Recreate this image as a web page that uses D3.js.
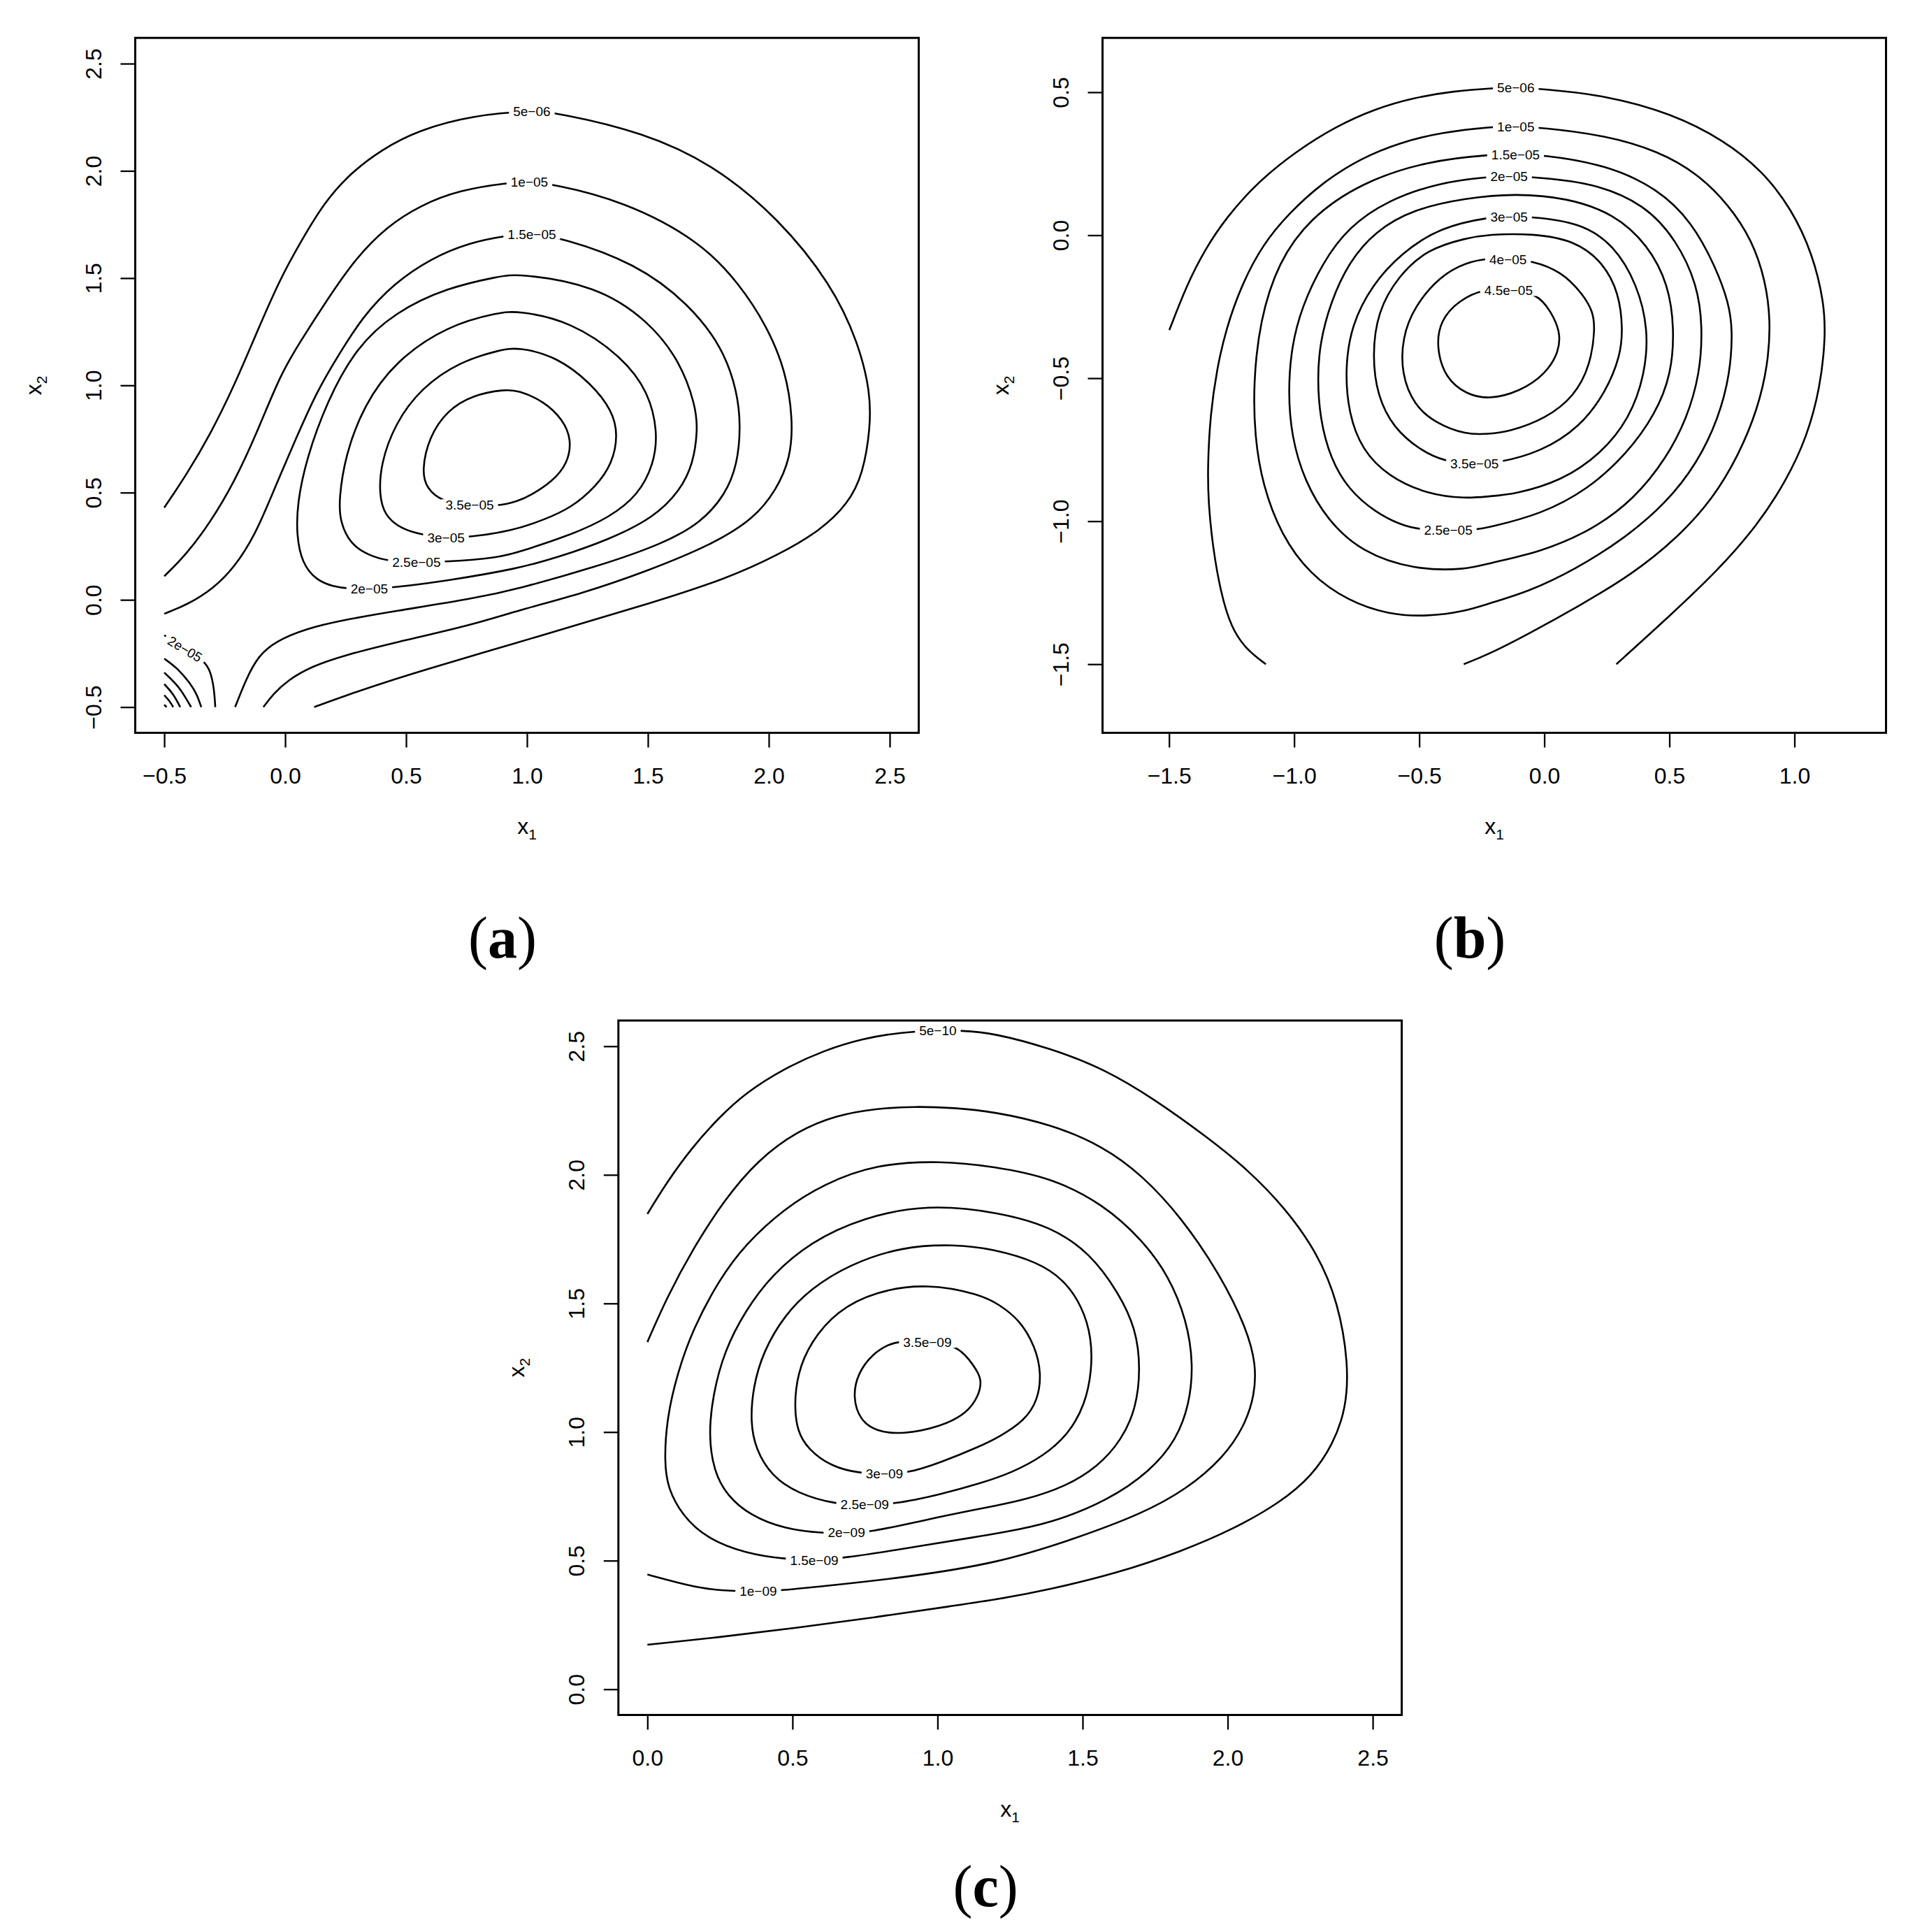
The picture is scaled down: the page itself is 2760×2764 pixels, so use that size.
<!DOCTYPE html>
<html>
<head>
<meta charset="utf-8">
<script src="https://cdn.jsdelivr.net/npm/d3@7"></script>
<style>
  body { margin: 0; background: #fff; }
</style>
</head>
<body>
<div id="chart"></div>
<script>

// ---------- tick values ----------
var ticksA = [-0.5, 0, 0.5, 1, 1.5, 2, 2.5];
var ticksBx = [-1.5, -1, -0.5, 0, 0.5, 1];
var ticksBy = [-1.5, -1, -0.5, 0, 0.5];
var ticksC = [0, 0.5, 1, 1.5, 2, 2.5];

// ---------- panel (a) contours, [x1, x2] ----------
var a_5e06 = [[-0.50,0.43],[-0.41,0.58],[-0.31,0.77],[-0.21,1.00],[-0.12,1.24],[-0.02,1.50],[0.07,1.68],[0.16,1.85],[0.27,1.99],[0.40,2.10],[0.55,2.19],[0.78,2.26],[1.02,2.28],[1.13,2.27],[1.48,2.18],[1.77,2.03],[2.04,1.78],[2.26,1.47],[2.37,1.20],[2.42,0.97],[2.42,0.80],[2.39,0.59],[2.33,0.45],[2.21,0.32],[2.04,0.21],[1.83,0.10],[1.50,-0.02],[1.18,-0.125],[0.96,-0.20],[0.67,-0.295],[0.45,-0.37],[0.24,-0.45],[0.12,-0.50]];
var a_1e05 = [[-0.50,0.11],[-0.41,0.21],[-0.31,0.36],[-0.21,0.55],[-0.12,0.77],[-0.02,1.05],[0.06,1.20],[0.18,1.41],[0.29,1.59],[0.42,1.74],[0.56,1.84],[0.72,1.91],[0.92,1.945],[1.01,1.948],[1.10,1.94],[1.40,1.86],[1.72,1.67],[1.88,1.47],[1.99,1.28],[2.07,1.07],[2.10,0.84],[2.09,0.66],[2.03,0.51],[1.94,0.38],[1.77,0.26],[1.50,0.135],[1.23,0.03],[0.96,-0.05],[0.78,-0.115],[0.45,-0.20],[0.24,-0.26],[0.11,-0.31],[0.01,-0.375],[-0.05,-0.44],[-0.09,-0.50]];
var a_15e05 = [[-0.50,-0.065],[-0.40,-0.02],[-0.30,0.05],[-0.21,0.15],[-0.12,0.31],[-0.04,0.53],[0.04,0.74],[0.13,0.97],[0.22,1.14],[0.32,1.32],[0.45,1.475],[0.60,1.59],[0.76,1.665],[0.92,1.70],[1.02,1.706],[1.14,1.69],[1.45,1.57],[1.67,1.38],[1.81,1.175],[1.87,0.97],[1.884,0.81],[1.87,0.63],[1.82,0.49],[1.72,0.36],[1.56,0.26],[1.29,0.155],[0.96,0.05],[0.78,0.006],[0.45,-0.053],[0.24,-0.094],[0.08,-0.136],[-0.04,-0.194],[-0.11,-0.26],[-0.16,-0.365],[-0.207,-0.50]];
var a_2e05 = [[0.348,0.051],[0.44,0.056],[0.67,0.089],[0.96,0.145],[1.125,0.197],[1.34,0.281],[1.525,0.384],[1.633,0.509],[1.687,0.634],[1.706,0.79],[1.698,0.904],[1.633,1.112],[1.504,1.30],[1.287,1.466],[0.963,1.522],[0.886,1.508],[0.67,1.456],[0.454,1.341],[0.292,1.175],[0.173,0.925],[0.087,0.655],[0.05,0.45],[0.047,0.30],[0.07,0.17],[0.13,0.09],[0.20,0.062],[0.26,0.052]];
var a_25e05 = [[0.543,0.176],[0.66,0.176],[0.886,0.197],[0.963,0.222],[1.179,0.301],[1.341,0.384],[1.46,0.488],[1.525,0.634],[1.541,0.78],[1.504,0.967],[1.395,1.133],[1.179,1.30],[0.963,1.347],[0.886,1.341],[0.67,1.279],[0.454,1.112],[0.324,0.904],[0.249,0.675],[0.222,0.467],[0.227,0.364],[0.27,0.259],[0.346,0.207],[0.427,0.18]];
var a_3e05 = [[0.665,0.291],[0.757,0.291],[0.941,0.322],[1.071,0.374],[1.179,0.426],[1.287,0.53],[1.352,0.634],[1.377,0.769],[1.352,0.884],[1.266,1.008],[1.125,1.133],[0.963,1.179],[0.886,1.164],[0.724,1.112],[0.562,0.988],[0.454,0.821],[0.395,0.634],[0.389,0.488],[0.411,0.395],[0.476,0.332],[0.573,0.301]];
var a_35e05 = [[0.763,0.443],[0.881,0.436],[0.963,0.46],[1.017,0.488],[1.104,0.551],[1.168,0.634],[1.185,0.748],[1.147,0.842],[1.071,0.925],[0.963,0.977],[0.908,0.981],[0.778,0.956],[0.67,0.884],[0.595,0.759],[0.565,0.603],[0.584,0.52],[0.649,0.457]];
// corner arcs near (-0.5, -0.5)
var a_c2e05 = [[-0.50,-0.165],[-0.414,-0.229],[-0.331,-0.287],[-0.309,-0.334],[-0.294,-0.411],[-0.289,-0.50]];
var a_c25e05 = [[-0.50,-0.274],[-0.444,-0.32],[-0.395,-0.386],[-0.366,-0.437],[-0.347,-0.50]];
var a_c3e05 = [[-0.50,-0.339],[-0.444,-0.399],[-0.415,-0.45],[-0.389,-0.50]];
var a_c35e05 = [[-0.50,-0.393],[-0.463,-0.437],[-0.434,-0.50]];
var a_c4e05 = [[-0.50,-0.445],[-0.48,-0.468],[-0.463,-0.50]];
var a_c45e05 = [[-0.50,-0.489],[-0.49,-0.50]];
var a_labels = [["5e\u221206",1.02,2.277,0],["1e\u221205",1.01,1.948,0],["1.5e\u221205",1.02,1.706,0],["2e\u221205",0.348,0.051,0],["2.5e\u221205",0.543,0.176,0],["3e\u221205",0.665,0.291,0],["3.5e\u221205",0.763,0.443,0],["2e\u221205",-0.414,-0.229,31]];

// ---------- panel (b) ----------
var b_5e06 = [[-1.499,-0.332],[-1.429,-0.173],[-1.356,-0.049],[-1.273,0.06],[-1.147,0.185],[-0.991,0.294],[-0.834,0.38],[-0.677,0.442],[-0.521,0.481],[-0.364,0.504],[-0.197,0.515],[-0.114,0.516],[-0.014,0.512],[0.247,0.489],[0.508,0.426],[0.717,0.333],[0.873,0.224],[0.988,0.092],[1.072,-0.064],[1.119,-0.236],[1.124,-0.36],[1.103,-0.532],[1.051,-0.703],[0.967,-0.859],[0.852,-1.014],[0.696,-1.17],[0.508,-1.326],[0.288,-1.50]];
var b_1e05 = [[-1.113,-1.50],[-1.189,-1.451],[-1.252,-1.373],[-1.294,-1.248],[-1.325,-1.092],[-1.343,-0.937],[-1.346,-0.81],[-1.335,-0.625],[-1.309,-0.469],[-1.273,-0.329],[-1.21,-0.173],[-1.126,-0.033],[-1.022,0.076],[-0.886,0.185],[-0.73,0.271],[-0.573,0.325],[-0.416,0.359],[-0.207,0.38],[-0.114,0.38],[-0.014,0.377],[0.247,0.349],[0.456,0.294],[0.612,0.216],[0.737,0.107],[0.831,-0.018],[0.884,-0.158],[0.905,-0.298],[0.894,-0.454],[0.852,-0.61],[0.779,-0.765],[0.675,-0.921],[0.529,-1.061],[0.351,-1.186],[0.142,-1.295],[-0.067,-1.396],[-0.224,-1.466],[-0.322,-1.50]];
var b_15e05 = [[-0.115,0.282],[-0.014,0.282],[0.247,0.247],[0.456,0.162],[0.591,0.045],[0.685,-0.111],[0.737,-0.236],[0.753,-0.329],[0.743,-0.485],[0.696,-0.641],[0.612,-0.796],[0.487,-0.937],[0.32,-1.061],[0.121,-1.17],[-0.067,-1.248],[-0.224,-1.288],[-0.312,-1.314],[-0.468,-1.334],[-0.625,-1.326],[-0.782,-1.28],[-0.938,-1.186],[-1.053,-1.046],[-1.126,-0.874],[-1.158,-0.703],[-1.163,-0.516],[-1.137,-0.298],[-1.064,-0.095],[-0.938,0.06],[-0.73,0.185],[-0.468,0.26],[-0.207,0.283]];
var b_2e05 = [[-0.141,0.206],[-0.067,0.205],[0.194,0.185],[0.403,0.107],[0.529,-0.018],[0.612,-0.173],[0.633,-0.321],[0.622,-0.485],[0.57,-0.641],[0.487,-0.781],[0.361,-0.921],[0.194,-1.03],[-0.014,-1.108],[-0.224,-1.147],[-0.312,-1.17],[-0.521,-1.17],[-0.73,-1.108],[-0.865,-0.999],[-0.959,-0.859],[-1.011,-0.703],[-1.024,-0.547],[-1.011,-0.391],[-0.97,-0.251],[-0.886,-0.095],[-0.782,0.029],[-0.625,0.123],[-0.416,0.185],[-0.218,0.205]];
var b_25e05 = [[-0.384,-1.03],[-0.27,-1.03],[-0.224,-1.022],[-0.014,-0.976],[0.173,-0.89],[0.33,-0.765],[0.445,-0.625],[0.508,-0.485],[0.52,-0.329],[0.497,-0.173],[0.414,-0.033],[0.278,0.076],[0.09,0.131],[-0.119,0.146],[-0.312,0.13],[-0.521,0.092],[-0.677,0.014],[-0.782,-0.095],[-0.855,-0.236],[-0.897,-0.376],[-0.907,-0.5],[-0.897,-0.641],[-0.855,-0.781],[-0.782,-0.89],[-0.677,-0.968],[-0.573,-1.014],[-0.494,-1.03]];
var b_3e05 = [[-0.141,0.065],[-0.062,0.065],[0.142,0.045],[0.278,-0.033],[0.372,-0.173],[0.416,-0.329],[0.403,-0.485],[0.341,-0.641],[0.226,-0.765],[0.069,-0.859],[-0.119,-0.906],[-0.224,-0.913],[-0.312,-0.921],[-0.468,-0.906],[-0.625,-0.843],[-0.729,-0.75],[-0.782,-0.625],[-0.797,-0.469],[-0.771,-0.313],[-0.688,-0.173],[-0.573,-0.064],[-0.416,0.029],[-0.207,0.065]];
var b_35e05 = [[-0.279,-0.799],[-0.187,-0.797],[-0.014,-0.758],[0.142,-0.672],[0.247,-0.547],[0.304,-0.422],[0.314,-0.329],[0.299,-0.204],[0.236,-0.095],[0.121,-0.018],[-0.046,0.006],[-0.224,0.003],[-0.312,-0.01],[-0.468,-0.049],[-0.583,-0.142],[-0.667,-0.267],[-0.688,-0.423],[-0.667,-0.563],[-0.604,-0.672],[-0.5,-0.75],[-0.395,-0.793]];
var b_4e05 = [[-0.145,-0.084],[-0.051,-0.088],[0.069,-0.127],[0.153,-0.205],[0.195,-0.267],[0.203,-0.329],[0.184,-0.454],[0.121,-0.563],[0.006,-0.641],[-0.14,-0.687],[-0.224,-0.695],[-0.312,-0.698],[-0.437,-0.656],[-0.521,-0.594],[-0.571,-0.485],[-0.568,-0.36],[-0.521,-0.251],[-0.416,-0.142],[-0.312,-0.095],[-0.22,-0.08]];
var b_45e05 = [[-0.143,-0.193],[-0.03,-0.202],[0.027,-0.267],[0.064,-0.337],[0.059,-0.407],[0.006,-0.485],[-0.098,-0.547],[-0.224,-0.575],[-0.312,-0.556],[-0.395,-0.501],[-0.432,-0.392],[-0.416,-0.298],[-0.343,-0.228],[-0.238,-0.186]];
var b_labels = [["5e\u221206",-0.114,0.516,0],["1e\u221205",-0.114,0.38,0],["1.5e\u221205",-0.115,0.282,0],["2e\u221205",-0.141,0.206,0],["3e\u221205",-0.141,0.065,0],["4e\u221205",-0.145,-0.084,0],["4.5e\u221205",-0.143,-0.193,0],["3.5e\u221205",-0.279,-0.799,0],["2.5e\u221205",-0.384,-1.03,0]];

// ---------- panel (c) ----------
var c_5e10 = [[0.0,1.848],[0.067,1.972],[0.157,2.111],[0.247,2.223],[0.337,2.318],[0.472,2.414],[0.607,2.483],[0.742,2.53],[0.877,2.555],[1.001,2.561],[1.079,2.561],[1.192,2.552],[1.391,2.491],[1.571,2.414],[1.751,2.292],[1.931,2.145],[2.066,2.024],[2.201,1.868],[2.309,1.696],[2.381,1.505],[2.417,1.263],[2.408,1.09],[2.363,0.952],[2.291,0.83],[2.183,0.727],[2.021,0.623],[1.841,0.536],[1.616,0.45],[1.391,0.389],[1.211,0.35],[1.057,0.325],[0.787,0.28],[0.517,0.239],[0.247,0.202],[0.0,0.173]];
var c_1e09 = [[0.0,1.35],[0.067,1.523],[0.157,1.713],[0.265,1.903],[0.382,2.059],[0.517,2.171],[0.652,2.232],[0.787,2.258],[0.922,2.266],[1.057,2.261],[1.192,2.246],[1.391,2.197],[1.571,2.111],[1.706,1.998],[1.841,1.834],[1.976,1.609],[2.066,1.401],[2.098,1.263],[2.093,1.142],[2.057,1.021],[1.985,0.9],[1.859,0.778],[1.706,0.683],[1.481,0.588],[1.211,0.49],[0.877,0.433],[0.607,0.401],[0.463,0.384],[0.382,0.381],[0.306,0.381],[0.202,0.389],[0.112,0.412],[0.0,0.446]];
var c_15e09 = [[0.575,0.502],[0.679,0.51],[0.877,0.545],[1.147,0.595],[1.211,0.607],[1.391,0.645],[1.589,0.735],[1.733,0.848],[1.823,0.969],[1.868,1.107],[1.882,1.263],[1.859,1.436],[1.796,1.609],[1.706,1.747],[1.571,1.886],[1.391,1.99],[1.192,2.033],[1.012,2.055],[0.787,2.042],[0.607,1.964],[0.472,1.869],[0.337,1.73],[0.247,1.592],[0.157,1.401],[0.103,1.228],[0.067,1.055],[0.058,0.882],[0.071,0.779],[0.121,0.675],[0.202,0.588],[0.337,0.528],[0.481,0.505]];
var c_2e09 = [[0.686,0.609],[0.764,0.609],[0.967,0.661],[1.147,0.702],[1.211,0.716],[1.301,0.737],[1.436,0.785],[1.553,0.865],[1.634,0.969],[1.684,1.09],[1.70,1.246],[1.684,1.401],[1.625,1.54],[1.526,1.696],[1.391,1.799],[1.211,1.855],[0.967,1.886],[0.742,1.834],[0.562,1.739],[0.427,1.609],[0.337,1.471],[0.265,1.315],[0.225,1.142],[0.211,0.986],[0.229,0.848],[0.274,0.753],[0.355,0.675],[0.472,0.623],[0.607,0.606]];
var c_25e09 = [[0.749,0.718],[0.845,0.718],[1.012,0.758],[1.147,0.80],[1.256,0.842],[1.364,0.905],[1.454,0.995],[1.508,1.107],[1.532,1.237],[1.531,1.367],[1.499,1.488],[1.436,1.592],[1.346,1.661],[1.192,1.712],[1.057,1.73],[0.877,1.721],[0.697,1.652],[0.562,1.557],[0.472,1.453],[0.40,1.315],[0.364,1.176],[0.355,1.038],[0.373,0.934],[0.427,0.83],[0.517,0.761],[0.652,0.718]];
var c_3e09 = [[0.817,0.839],[0.895,0.839],[1.012,0.882],[1.147,0.945],[1.211,0.98],[1.301,1.045],[1.346,1.125],[1.358,1.228],[1.337,1.332],[1.283,1.436],[1.211,1.497],[1.147,1.535],[0.967,1.578],[0.787,1.548],[0.652,1.471],[0.562,1.349],[0.517,1.228],[0.506,1.099],[0.517,1.003],[0.553,0.934],[0.634,0.865],[0.733,0.839]];
var c_35e09 = [[0.965,1.349],[1.066,1.337],[1.111,1.28],[1.142,1.228],[1.151,1.194],[1.142,1.142],[1.102,1.073],[1.012,1.021],[0.877,0.99],[0.787,1.003],[0.733,1.047],[0.708,1.133],[0.724,1.228],[0.778,1.306],[0.832,1.341],[0.868,1.353]];
var c_labels = [["5e\u221210",1.001,2.561,0],["1e\u221209",0.382,0.381,0],["1.5e\u221209",0.575,0.502,0],["2e\u221209",0.686,0.609,0],["2.5e\u221209",0.749,0.718,0],["3e\u221209",0.817,0.839,0],["3.5e\u221209",0.965,1.349,0]];

// ---------------------------------------------------------------
var W = 2760, H = 2764;
var sans = "'Liberation Sans', Arial, Helvetica, sans-serif";
var serif = "'Liberation Serif', 'Times New Roman', serif";

var svg = d3.select("#chart").append("svg")
    .attr("width", W)
    .attr("height", H)
    .style("background", "#fff");

var panels = [
  { name: "a", left: 193.5, right: 1314.5, top: 54.2, bottom: 1048.4,
    xDomain: [-0.62, 2.62], yDomain: [-0.62, 2.62], xTicks: ticksA, yTicks: ticksA,
    lines: [[a_5e06,0],[a_1e05,0],[a_15e05,0],[a_2e05,1],[a_25e05,1],[a_3e05,1],[a_35e05,1],
            [a_c2e05,0],[a_c25e05,0],[a_c3e05,0],[a_c35e05,0],[a_c4e05,0],[a_c45e05,0]],
    labels: a_labels, tagY: 1370 },
  { name: "b", left: 1577.5, right: 2698.5, top: 54.2, bottom: 1048.4,
    xDomain: [-1.766, 1.366], yDomain: [-1.74, 0.69], xTicks: ticksBx, yTicks: ticksBy,
    lines: [[b_5e06,0],[b_1e05,0],[b_15e05,1],[b_2e05,1],[b_25e05,1],[b_3e05,1],[b_35e05,1],[b_4e05,1],[b_45e05,1]],
    labels: b_labels, tagY: 1370 },
  { name: "c", left: 884.8, right: 2005.6, top: 1460, bottom: 2453.5,
    xDomain: [-0.1, 2.6], yDomain: [-0.1, 2.6], xTicks: ticksC, yTicks: ticksC,
    lines: [[c_5e10,0],[c_1e09,0],[c_15e09,1],[c_2e09,1],[c_25e09,1],[c_3e09,1],[c_35e09,1]],
    labels: c_labels, tagY: 2727 }
];

panels.forEach(drawPanel);

function drawPanel(p) {
    var x = d3.scaleLinear().domain(p.xDomain).range([p.left, p.right]);
    var y = d3.scaleLinear().domain(p.yDomain).range([p.bottom, p.top]);
    var g = svg.append("g").attr("class", "panel-" + p.name);

    // smoothing splines: the points are hand-read, this takes the jitter out
    var open = d3.line()
        .x(function(d) { return x(d[0]); })
        .y(function(d) { return y(d[1]); })
        .curve(d3.curveBasis);
    var closed = d3.line()
        .x(function(d) { return x(d[0]); })
        .y(function(d) { return y(d[1]); })
        .curve(d3.curveBasisClosed);

    // contour lines
    g.selectAll(".contour")
        .data(p.lines)
        .enter().append("path")
        .attr("class", "contour")
        .attr("d", function(d) { return d[1] ? closed(d[0]) : open(d[0]); })
        .attr("fill", "none")
        .attr("stroke", "#000")
        .attr("stroke-width", 2.6)
        .attr("stroke-linejoin", "round");

    // contour labels, the line is broken behind them
    var lab = g.selectAll(".clabel")
        .data(p.labels)
        .enter().append("g")
        .attr("class", "clabel")
        .attr("transform", function(d) {
            return "translate(" + x(d[1]) + "," + y(d[2]) + ") rotate(" + d[3] + ")";
        });
    var bg = lab.append("rect").attr("fill", "#fff");
    var txt = lab.append("text")
        .attr("text-anchor", "middle")
        .attr("dy", "0.36em")
        .style("font-family", sans)
        .style("font-size", "19px")
        .text(function(d) { return d[0]; });
    bg.each(function(d, i) {
        var w = txt.nodes()[i].getComputedTextLength();
        d3.select(this)
            .attr("x", -w / 2 - 6).attr("y", -8)
            .attr("width", w + 12).attr("height", 16);
    });

    // box
    g.append("rect")
        .attr("x", p.left).attr("y", p.top)
        .attr("width", p.right - p.left).attr("height", p.bottom - p.top)
        .attr("fill", "none")
        .attr("stroke", "#000")
        .attr("stroke-width", 3);

    var fmt = d3.format(".1f");

    // x axis
    var xa = g.append("g")
        .attr("transform", "translate(0," + p.bottom + ")")
        .call(d3.axisBottom(x).tickValues(p.xTicks).tickFormat(fmt).tickSize(21).tickSizeOuter(0));
    xa.select(".domain").remove();
    xa.selectAll("line").attr("stroke-width", 2.3);
    xa.selectAll("text")
        .attr("y", 61).attr("dy", "0.36em")
        .style("font-family", sans).style("font-size", "32px");

    // y axis, labels parallel to the axis
    var ya = g.append("g")
        .attr("transform", "translate(" + p.left + ",0)")
        .call(d3.axisLeft(y).tickValues(p.yTicks).tickFormat(fmt).tickSize(21).tickSizeOuter(0));
    ya.select(".domain").remove();
    ya.selectAll("line").attr("stroke-width", 2.3);
    ya.selectAll("text")
        .attr("x", 0).attr("y", -60).attr("dy", "0.36em")
        .attr("text-anchor", "middle")
        .attr("transform", "rotate(-90)")
        .style("font-family", sans).style("font-size", "32px");

    // axis titles x1 / x2
    var cx = (p.left + p.right) / 2, cy = (p.top + p.bottom) / 2;
    var t1 = g.append("text")
        .attr("x", cx).attr("y", p.bottom + 145)
        .attr("text-anchor", "middle")
        .style("font-family", sans).style("font-size", "32px");
    t1.append("tspan").text("x");
    t1.append("tspan").attr("dy", 8).style("font-size", "21px").text("1");

    var t2 = g.append("text")
        .attr("transform", "translate(" + (p.left - 135) + "," + cy + ") rotate(-90)")
        .attr("text-anchor", "middle")
        .style("font-family", sans).style("font-size", "32px");
    t2.append("tspan").text("x");
    t2.append("tspan").attr("dy", 8).style("font-size", "21px").text("2");

    // sub-figure tag
    var tag = g.append("text")
        .attr("x", cx - 35).attr("y", p.tagY)
        .attr("text-anchor", "middle")
        .style("font-family", serif).style("font-size", "84px");
    tag.append("tspan").text("(");
    tag.append("tspan").style("font-weight", "bold").text(p.name);
    tag.append("tspan").text(")");
}
</script>
</body>
</html>
